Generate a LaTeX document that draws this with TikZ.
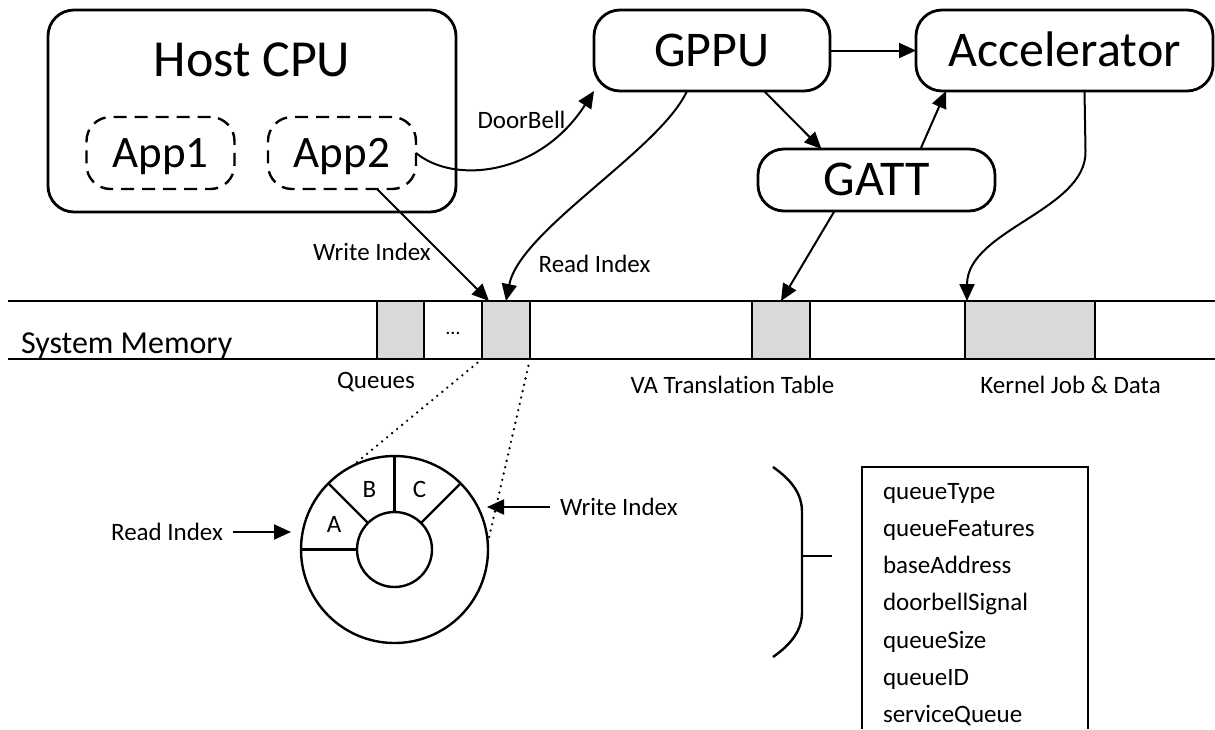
\documentclass[tikz,border=0pt]{standalone}
\usepackage{fontspec}
\setmainfont{Carlito}[Ligatures=NoCommon]
\usetikzlibrary{arrows.meta,calc}
\definecolor{cellgray}{RGB}{217,217,217}

\begin{document}
\begin{tikzpicture}[x=1pt,y=-1pt,
  every node/.style={inner sep=0pt, outer sep=0pt},
  bigbox/.style={draw, line width=2.8pt, rounded corners=26pt},
  unitbox/.style={bigbox, font=\fontsize{50}{60}\selectfont, text height=31.6pt, text depth=0pt},
  appbox/.style={draw, line width=2.4pt, rounded corners=24pt, dash pattern=on 13pt off 8pt,
    minimum width=148pt, minimum height=72pt, text height=28.5pt, text depth=0pt,
    font=\fontsize{45}{54}\selectfont},
  lbl/.style={font=\fontsize{25}{30}\selectfont},
  caplbl/.style={lbl, text height=16pt, text depth=0pt},
  arr/.style={line width=2pt, -{Triangle[length=17pt,width=15pt]}},
  memline/.style={line width=2.6pt},
  cell/.style={draw, line width=2pt, fill=cellgray, minimum height=58pt},
  ringline/.style={line width=2.4pt},
  dotline/.style={line width=2.6pt, line cap=round, dash pattern=on 0pt off 6.5pt}
]
\useasboundingbox (0,0) rectangle (1215,729);

% ---------- processors ----------
\node[bigbox, minimum width=408pt, minimum height=202pt] (host) at (252,111) {};
\node[font=\fontsize{52}{62}\selectfont, anchor=base] (hostlbl) at (252,76) {Host CPU};
\node[appbox] (app1) at (160.5,153) {App1};
\node[appbox] (app2) at (342,153) {App2};

\node[unitbox, minimum width=236pt, minimum height=81pt] (gppu) at (712,50.5) {GPPU};
\node[unitbox, minimum width=297pt, minimum height=81pt] (acc) at (1064.5,50.5) {Accelerator};
\node[unitbox, minimum width=237pt, minimum height=62pt] (gatt) at (876.5,180) {GATT};

% ---------- system memory strip ----------
\node[cell, minimum width=47pt] (q1) at (400.5,330) {};
\node[font=\fontsize{20}{24}\selectfont] (qdots) at (453,333) {…};
\node[cell, minimum width=48pt] (q2) at (506,330) {};
\node[cell, minimum width=58pt] (va) at (781,330) {};
\node[cell, minimum width=130pt] (kernel) at (1030,330) {};
\draw[memline] (8,301) -- (1215,301);
\draw[memline] (8,359) -- (1215,359);
\node[font=\fontsize{32}{38}\selectfont, anchor=base west] (memlbl) at (21,353) {System Memory};
\node[lbl, anchor=base] (qlbl) at (376,388) {Queues};
\node[lbl, anchor=base] (valbl) at (732.5,393) {VA Translation Table};
\node[lbl, anchor=base] (klbl) at (1070.5,393) {Kernel Job \& Data};

% ---------- connectors ----------
\draw[arr] (gppu.east) -- (acc.west);
\draw[arr] ($(gppu.south)+(52,0)$) -- ($(gatt.north)+(-55,0)$);
\draw[arr] ($(gatt.north)+(44,0)$) -- ($(acc.south west)+(30,0)$);
\draw[arr] (app2.east) .. controls (455,185) and (540,175) .. (gppu.south west);
\node[lbl, anchor=base] (doorlbl) at (521.5,128) {DoorBell};
\draw[arr] ($(app2.south)+(35,0)$) -- ($(q2.north west)+(7,0)$);
\node[lbl, anchor=base] (wilbl) at (372,260) {Write Index};
\draw[arr] ($(gppu.south)+(-25,0)$) .. controls (660,150) and (520,230) .. (q2.north);
\node[lbl, anchor=base] (rilbl) at (594.5,272) {Read Index};
\draw[arr] ($(gatt.south)+(-42,0)$) -- (va.north);
\draw[arr] ($(acc.south)+(20,0)$) -- ++(1,60)
  .. controls (1087,210) and (967,230) .. ($(kernel.north west)+(2,0)$);

% ---------- ring buffer ----------
\node[draw, circle, line width=2.4pt, minimum size=187pt] (ring) at (394.5,549.5) {};
\node[draw, circle, line width=2.4pt, minimum size=75pt] (hub) at (394.5,549.5) {};
\foreach \a in {180,135,90,45} \draw[ringline] (ring.\a) -- (hub.\a);
\node[lbl] (sa) at (334,524.5) {A};
\node[lbl] (sb) at (369.5,489) {B};
\node[lbl] (sc) at (419.5,489) {C};
\draw[dotline, shorten <=6pt] (q2.south west) -- (ring.117);
\draw[dotline, shorten <=7pt] (q2.south east) -- (ring.4);

\node[caplbl] (rdlbl) at (167,532) {Read Index};
\coordinate (rdtip) at (291,532);
\draw[arr, shorten <=10pt] (rdlbl.east) -- (rdtip);
\node[caplbl, anchor=west] (wrlbl) at (560,507) {Write Index};
\coordinate (wrtip) at (487,507);
\draw[arr, shorten <=10pt] (wrlbl.west) -- (wrtip);

% ---------- queue descriptor ----------
\draw[line width=2.4pt] (773,467) .. controls (793,481) and (802,495) .. (802,512)
  -- (802,612) .. controls (802,629) and (793,643) .. (773,657);
\draw[line width=2.4pt] (802,556) -- (832,556);
\draw[line width=2.4pt] (862,729) -- (862,467) -- (1088,467) -- (1088,729);
\foreach \t [count=\i] in {queueType,queueFeatures,baseAddress,doorbellSignal,queueSize,queueID,serviceQueue}
  \node[lbl, anchor=base west] (f\i) at (883,{461.7+37.3*\i}) {\t};
\end{tikzpicture}
\end{document}
